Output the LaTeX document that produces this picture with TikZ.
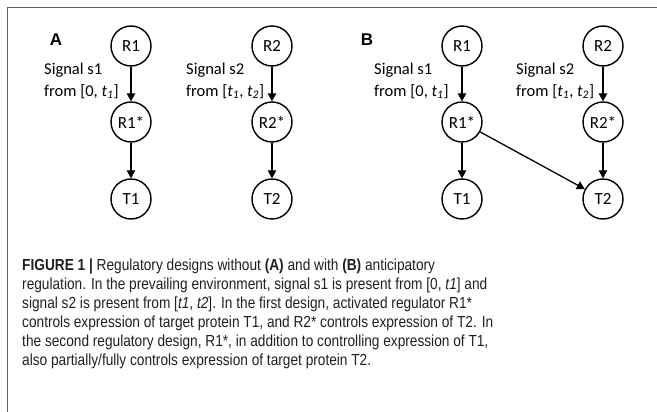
\documentclass[tikz,border=0pt]{standalone}
\usepackage{fontspec}
\setmainfont{Carlito}
\newfontfamily\capfont[FakeStretch=0.855]{Liberation Sans}
\newfontfamily\panelfont{Liberation Sans}
\usetikzlibrary{arrows.meta,positioning}
\definecolor{frameGray}{RGB}{95,95,95}
\definecolor{capInk}{RGB}{35,31,32}

\begin{document}
\begin{tikzpicture}[x=1pt,y=1pt,
  mol/.style={circle,draw,line width=1.4pt,minimum size=40pt,inner sep=0pt,font=\fontsize{17}{18}\selectfont},
  sigtext/.style={anchor=north west,align=left,inner sep=0pt,font=\fontsize{16.5}{21.5}\selectfont},
  act/.style={-{Triangle[length=8pt,width=8.5pt]},line width=1.3pt},
  panel/.style={font=\panelfont\bfseries\fontsize{17}{17}\selectfont}]
\path[use as bounding box] (0,0) rectangle (657,-412);
\draw[frameGray,line width=1.2pt] (7.5,-412) -- (7.5,-7.5) -- (657,-7.5);

% panel A
\node[panel] (labA) at (56,-40) {A};
\node[mol] (aR1) at (131,-46) {R1};
\node[mol] (aR1s) at (131,-122) {R1*};
\node[mol] (aT1) at (131,-199) {T1};
\node[mol] (aR2) at (272,-46) {R2};
\node[mol] (aR2s) at (272,-122) {R2*};
\node[mol] (aT2) at (272,-199) {T2};
\node[sigtext] (aS1) at (44,-63) {Signal s1\\from [0, \textit{t}\textsubscript{\textit{1}}]};
\node[sigtext] (aS2) at (186,-63) {Signal s2\\from [\textit{t}\textsubscript{\textit{1}}, \textit{t}\textsubscript{\textit{2}}]};
\draw[act] (aR1) -- (aR1s);
\draw[act] (aR1s) -- (aT1);
\draw[act] (aR2) -- (aR2s);
\draw[act] (aR2s) -- (aT2);

% panel B
\node[panel] (labB) at (367,-40) {B};
\node[mol] (bR1) at (462,-46) {R1};
\node[mol] (bR1s) at (462,-122) {R1*};
\node[mol] (bT1) at (462,-199) {T1};
\node[mol] (bR2) at (603,-46) {R2};
\node[mol] (bR2s) at (603,-122) {R2*};
\node[mol] (bT2) at (603,-199) {T2};
\node[sigtext] (bS1) at (374,-63) {Signal s1\\from [0, \textit{t}\textsubscript{\textit{1}}]};
\node[sigtext] (bS2) at (516,-63) {Signal s2\\from [\textit{t}\textsubscript{\textit{1}}, \textit{t}\textsubscript{\textit{2}}]};
\draw[act] (bR1) -- (bR1s);
\draw[act] (bR1s) -- (bT1);
\draw[act] (bR2) -- (bR2s);
\draw[act] (bR2s) -- (bT2);
\draw[act] (bR1s) -- (bT2);

% caption
\node[anchor=north west,align=left,inner sep=0pt,text=capInk,font=\capfont\fontsize{16}{19}\selectfont] (caption) at (22,-259)
  {\textbf{FIGURE 1 |} Regulatory designs without \textbf{(A)} and with \textbf{(B)} anticipatory\\
   regulation. In the prevailing environment, signal s1 is present from [0, \textit{t1}] and\\
   signal s2 is present from [\textit{t1}, \textit{t2}]. In the first design, activated regulator R1*\\
   controls expression of target protein T1, and R2* controls expression of T2. In\\
   the second regulatory design, R1*, in addition to controlling expression of T1,\\
   also partially/fully controls expression of target protein T2.};
\end{tikzpicture}
\end{document}
